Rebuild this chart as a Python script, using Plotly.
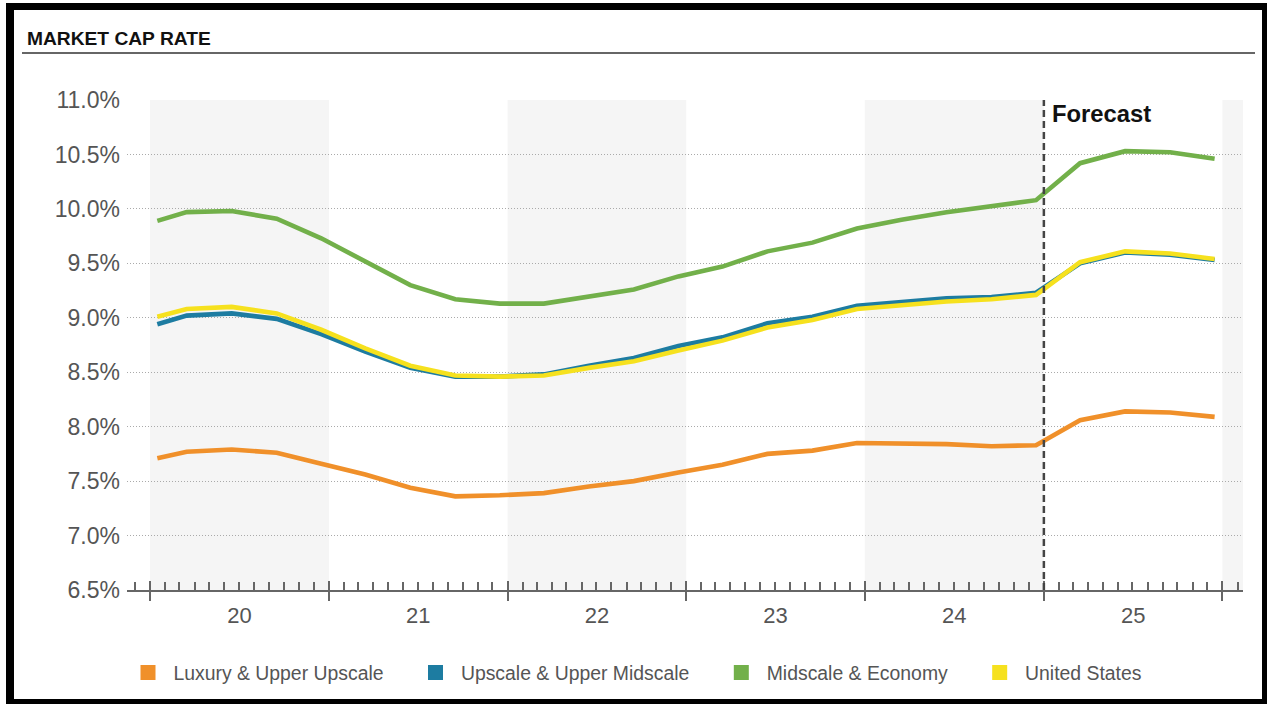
import plotly.graph_objects as go

# ---------------- data ----------------
dates = ["2020-01-16", "2020-03-16", "2020-06-16", "2020-09-16", "2020-12-16",
         "2021-03-16", "2021-06-16", "2021-09-16", "2021-12-16",
         "2022-03-16", "2022-06-16", "2022-09-16", "2022-12-16",
         "2023-03-16", "2023-06-16", "2023-09-16", "2023-12-16",
         "2024-03-16", "2024-06-16", "2024-09-16", "2024-12-16",
         "2025-03-16", "2025-06-16", "2025-09-16", "2025-12-16"]

luxury = [7.71, 7.77, 7.79, 7.76, 7.66, 7.56, 7.44, 7.36, 7.37, 7.39, 7.45, 7.50,
          7.58, 7.65, 7.75, 7.78, 7.85, 7.85, 7.84, 7.82, 7.83, 8.06, 8.14, 8.13, 8.09]
upscale = [8.94, 9.02, 9.04, 8.99, 8.85, 8.69, 8.54, 8.46, 8.46, 8.48, 8.56, 8.63,
           8.74, 8.82, 8.95, 9.01, 9.11, 9.15, 9.18, 9.19, 9.23, 9.50, 9.60, 9.58, 9.53]
midscale = [9.89, 9.97, 9.98, 9.91, 9.73, 9.52, 9.30, 9.17, 9.13, 9.13, 9.20, 9.26,
            9.38, 9.47, 9.61, 9.69, 9.82, 9.90, 9.97, 10.02, 10.08, 10.42, 10.53, 10.52, 10.46]
united_states = [9.01, 9.08, 9.10, 9.04, 8.89, 8.72, 8.56, 8.47, 8.46, 8.47, 8.54, 8.60,
                 8.70, 8.79, 8.91, 8.98, 9.08, 9.12, 9.15, 9.17, 9.21, 9.51, 9.61, 9.59, 9.54]

series_names = ["Luxury & Upper Upscale", "Upscale & Upper Midscale",
                "Midscale & Economy", "United States"]
series_values = [luxury, upscale, midscale, united_states]
series_colors = ["#F0902A", "#1D7CA1", "#72B04A", "#F6E11E"]

shaded_years = [("2020-01-01", "2021-01-01"), ("2022-01-01", "2023-01-01"),
                ("2024-01-01", "2025-01-01"), ("2026-01-01", "2026-03-01")]
forecast_start = "2025-01-01"
x_range = ["2019-11-15", "2026-02-12"]
y_ticks = [6.5, 7.0, 7.5, 8.0, 8.5, 9.0, 9.5, 10.0, 10.5, 11.0]

# ---------------- layout geometry ----------------
W, H = 1267, 704
ML, MR, MT, MB = 127, 24, 100, 114
PW, PH = W - ML - MR, H - MT - MB


def px(x):
    return (x - ML) / PW


def py(y):
    return (H - MB - y) / PH


FONT = "Liberation Sans, Arial, sans-serif"

fig = go.Figure()

for name, vals, col in zip(series_names, series_values, series_colors):
    fig.add_trace(go.Scatter(x=dates, y=vals, mode="lines", name=name,
                             line=dict(color=col, width=4.6), showlegend=False))

NB = "\u00a0"
for name, col in zip(series_names, series_colors):
    fig.add_trace(go.Scatter(x=[None], y=[None], mode="markers",
                             name=NB + name + NB * 5,
                             marker=dict(symbol="square", size=15, color=col),
                             showlegend=True))

# hidden trace to create overlay axis (outside part of year ticks)
fig.add_trace(go.Scatter(x=[None], y=[None], xaxis="x2", yaxis="y",
                         showlegend=False, hoverinfo="skip"))

shapes = []
for a, b in shaded_years:
    shapes.append(dict(type="rect", xref="x", yref="paper", x0=a, x1=b, y0=0, y1=1,
                       fillcolor="#F5F5F5", line=dict(width=0), layer="below"))
shapes.append(dict(type="line", xref="x", yref="paper", x0=forecast_start, x1=forecast_start,
                   y0=0, y1=1, line=dict(color="#444444", width=2.5, dash="7px,4px"),
                   layer="above"))
# title rule
shapes.append(dict(type="line", xref="paper", yref="paper", x0=px(22), x1=px(1255),
                   y0=py(53), y1=py(53), line=dict(color="#666666", width=2)))
# outer black frame
for (x0, x1, y0, y1) in [(6, 14, 3, 704), (6, 1267, 3, 10), (1262, 1267, 3, 704), (6, 1267, 699, 704)]:
    shapes.append(dict(type="rect", xref="paper", yref="paper", x0=px(x0), x1=px(x1),
                       y0=py(y1), y1=py(y0), fillcolor="#000000", line=dict(width=0)))

annotations = [
    dict(text="<b>MARKET CAP RATE</b>", xref="paper", yref="paper", x=px(25), y=py(38),
         xanchor="left", yanchor="middle", showarrow=False,
         font=dict(family=FONT, size=19.2, color="#111111")),
    dict(text="<b>Forecast</b>", xref="x", yref="paper", x=forecast_start, y=py(113),
         xanchor="left", yanchor="middle", xshift=6, showarrow=False,
         font=dict(family=FONT, size=23.8, color="#111111")),
]

fig.update_layout(
    width=W, height=H,
    margin=dict(l=ML, r=MR, t=MT, b=MB, pad=0),
    paper_bgcolor="white", plot_bgcolor="white",
    font=dict(family=FONT, color="#555555"),
    shapes=shapes, annotations=annotations,
    xaxis=dict(type="date", range=x_range, showgrid=False, zeroline=False,
               showline=True, linecolor="#666666", linewidth=2,
               tickmode="linear", tick0="2020-01-01", dtick="M12",
               ticks="inside", ticklen=9, tickwidth=2, tickcolor="#666666",
               ticklabelmode="period", tickformat="%y",
               tickfont=dict(family=FONT, size=22, color="#555555"),
               ticklabelstandoff=5,
               minor=dict(ticks="inside", ticklen=8, tickwidth=1.5, tickcolor="#666666",
                          tick0="2020-01-01", dtick="M1", showgrid=False)),
    xaxis2=dict(type="date", range=x_range, overlaying="x", anchor="y", side="bottom",
                showgrid=False, zeroline=False, showline=False,
                tickmode="linear", tick0="2020-01-01", dtick="M12",
                ticks="outside", ticklen=10, tickwidth=2, tickcolor="#666666",
                showticklabels=False),
    yaxis=dict(range=[6.5, 11.0], tickvals=y_ticks, ticktext=[f"{v:.1f}%" for v in y_ticks],
               showgrid=True, gridcolor="#AAAAAA", gridwidth=1, griddash="1px,2px",
               zeroline=False, showline=False, ticks="",
               tickfont=dict(family=FONT, size=23, color="#555555"),
               ticklabelstandoff=6),
    legend=dict(orientation="h", x=px(128), xanchor="left", y=py(673), yanchor="middle",
                font=dict(family=FONT, size=19.4, color="#555555"),
                bgcolor="rgba(0,0,0,0)", borderwidth=0),
    hovermode=False,
)

fig.write_html("out.html")
